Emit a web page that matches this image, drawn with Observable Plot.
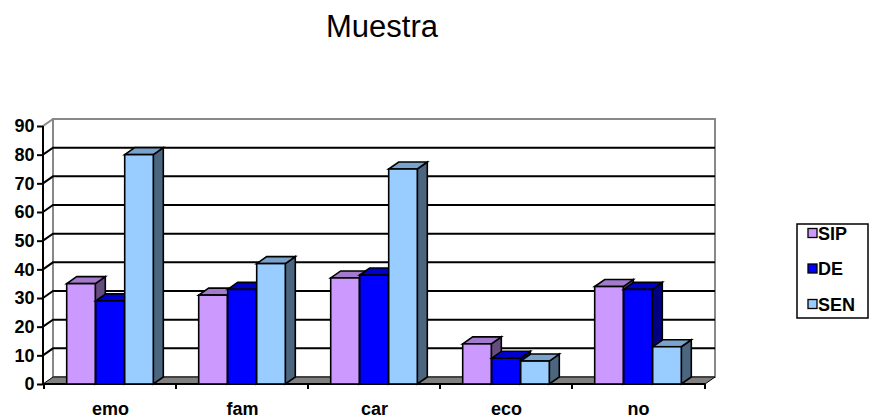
<!DOCTYPE html>
<html>
<head>
<meta charset="utf-8">
<script src="https://cdn.jsdelivr.net/npm/d3@7"></script>
<script src="https://cdn.jsdelivr.net/npm/@observablehq/plot@0.6"></script>
<style>
  body { margin: 0; background: #fff; }
  #chart svg { display: block; }
</style>
</head>
<body>
<div id="chart"></div>
<script>
// Categories and the three series (SIP, DE, SEN)
const categories = ["emo", "fam", "car", "eco", "no"];
const sip = [35, 31, 37, 14, 34];
const de  = [29, 33, 38, 9, 33];
const sen = [80, 42, 75, 8, 13];
const seriesNames = ["SIP", "DE", "SEN"];
const yTicks = [0, 10, 20, 30, 40, 50, 60, 70, 80, 90];
const gridTicks = [10, 20, 30, 40, 50, 60, 70, 80];
const chartTitle = "Muestra";

const colors = { SIP: "#cc99ff", DE: "#0000ff", SEN: "#99ccff" };
const font = "'Liberation Sans', Arial, Helvetica, sans-serif";

// Layout and pseudo-3D depth offset
const W = 872, H = 419;
const ML = 43, MR = 167, MT = 126, MB = 35;
const DX = 10, DY = -7;
const barWidth = 29;
const bandwidth = (W - ML - MR) / categories.length;
const inset = (bandwidth - barWidth) / 2;
const SVGNS = "http://www.w3.org/2000/svg";

const shade = (c, k) => {
  const r = d3.rgb(c);
  return d3.rgb(r.r * k, r.g * k, r.b * k).formatHex();
};

// Back wall, left wall, floor, gridlines and axis lines
function room(index, scales, values, dims) {
  const y = scales.y, x = scales.x;
  const xL = dims.marginLeft, xR = dims.width - dims.marginRight;
  const y0 = y(0), yTop = y(d3.max(yTicks));
  const g = d3.create("svg:g").attr("fill", "none");
  g.append("rect")
    .attr("x", xL + DX).attr("y", yTop + DY)
    .attr("width", xR - xL).attr("height", y0 - yTop)
    .attr("fill", "#fff").attr("stroke", "#888").attr("stroke-width", 2);
  g.append("line")
    .attr("x1", xL).attr("y1", yTop).attr("x2", xL + DX).attr("y2", yTop + DY)
    .attr("stroke", "#888").attr("stroke-width", 2);
  for (const v of gridTicks) {
    g.append("polyline")
      .attr("points", [[xL, y(v)], [xL + DX, y(v) + DY], [xR + DX, y(v) + DY]].join(" "))
      .attr("stroke", "#000").attr("stroke-width", 2);
  }
  g.append("polygon")
    .attr("points", [[xL, y0], [xR, y0], [xR + DX, y0 + DY], [xL + DX, y0 + DY]].join(" "))
    .attr("fill", "#808080").attr("stroke", "#000").attr("stroke-width", 1);
  g.append("line")
    .attr("x1", xL).attr("y1", y0).attr("x2", xR).attr("y2", y0)
    .attr("stroke", "#000").attr("stroke-width", 2);
  g.append("line")
    .attr("x1", xL).attr("y1", y0).attr("x2", xL).attr("y2", yTop)
    .attr("stroke", "#000").attr("stroke-width", 2);
  const bounds = categories.map(c => x(c)).concat([xR]);
  for (const b of bounds) {
    g.append("line")
      .attr("x1", b).attr("y1", y0).attr("x2", b).attr("y2", y0 + 5)
      .attr("stroke", "#000").attr("stroke-width", 2);
  }
  return g.node();
}

// One series as 3D columns: front face from Plot, plus top and side faces
function columns(name, vals, offset) {
  const data = vals.map((v, i) => ({ category: categories[i], value: v }));
  const topFill = shade(colors[name], 0.8);
  const sideFill = shade(colors[name], 0.5);
  return Plot.barY(data, {
    x: "category",
    y: "value",
    fill: colors[name],
    stroke: "#000",
    strokeWidth: 1.6,
    insetLeft: inset,
    insetRight: inset,
    dx: offset,
    render(index, scales, values, dims, context, next) {
      const g = next(index, scales, values, dims, context);
      g.querySelectorAll("rect").forEach(rect => {
        const x = +rect.getAttribute("x"), y = +rect.getAttribute("y");
        const w = +rect.getAttribute("width"), h = +rect.getAttribute("height");
        const side = document.createElementNS(SVGNS, "polygon");
        side.setAttribute("points", [[x + w, y], [x + w, y + h], [x + w + DX, y + h + DY], [x + w + DX, y + DY]].join(" "));
        side.setAttribute("fill", sideFill);
        const top = document.createElementNS(SVGNS, "polygon");
        top.setAttribute("points", [[x, y], [x + w, y], [x + w + DX, y + DY], [x + DX, y + DY]].join(" "));
        top.setAttribute("fill", topFill);
        rect.parentNode.insertBefore(side, rect);
        rect.parentNode.insertBefore(top, rect);
      });
      return g;
    }
  });
}

const chart = Plot.plot({
  width: W,
  height: H,
  marginLeft: ML,
  marginRight: MR,
  marginTop: MT,
  marginBottom: MB,
  style: { fontFamily: font, color: "#000", background: "#fff" },
  x: { domain: categories, padding: 0 },
  y: { domain: [0, 90] },
  marks: [
    room,
    columns("SIP", sip, -barWidth),
    columns("DE", de, 0),
    columns("SEN", sen, barWidth),
    Plot.axisY({ ticks: yTicks, tickSize: 6, tickPadding: 3, strokeWidth: 2, fontWeight: "bold", fontSize: 18, label: null }),
    Plot.axisX({ tickSize: 0, tickPadding: 18, fontWeight: "bold", fontSize: 18, label: null })
  ]
});

// Title and legend
const svg = d3.select(chart);
svg.append("text")
  .attr("x", 382).attr("y", 37)
  .attr("text-anchor", "middle")
  .attr("font-family", font).attr("font-size", 31)
  .attr("fill", "#000")
  .text(chartTitle);

const legend = svg.append("g").attr("font-family", font).attr("text-anchor", "start");
legend.append("rect")
  .attr("x", 797).attr("y", 224).attr("width", 71).attr("height", 94)
  .attr("fill", "#fff").attr("stroke", "#000").attr("stroke-width", 1.5);
seriesNames.forEach((name, i) => {
  const cy = 233 + i * 35.5;
  legend.append("rect")
    .attr("x", 808).attr("y", cy - 4.5).attr("width", 9).attr("height", 9)
    .attr("fill", colors[name]).attr("stroke", "#000").attr("stroke-width", 1.3);
  legend.append("text")
    .attr("x", 818).attr("y", cy + 6.5)
    .attr("text-anchor", "start")
    .attr("font-size", 18).attr("font-weight", "bold").attr("fill", "#000")
    .text(name);
});

document.getElementById("chart").appendChild(chart);
</script>
</body>
</html>
